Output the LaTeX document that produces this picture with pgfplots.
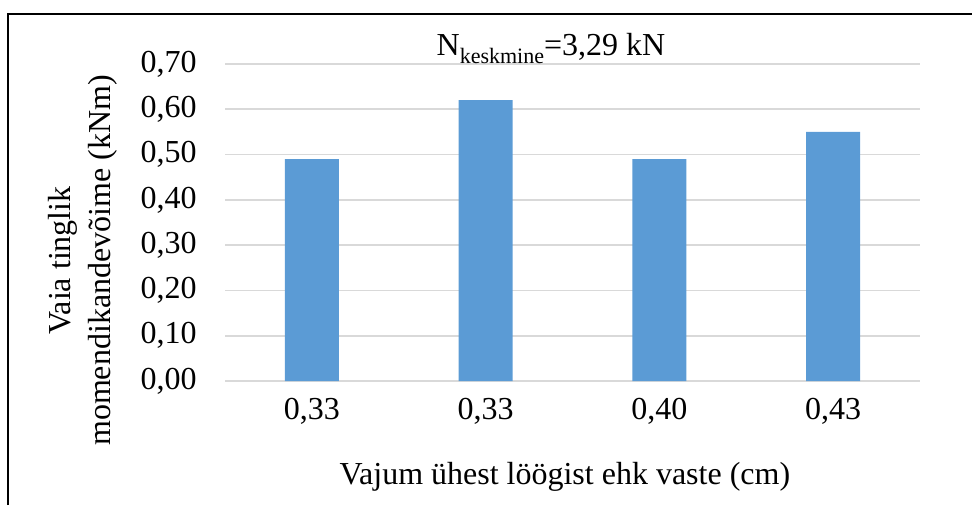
\documentclass[border=0pt]{standalone}
\usepackage{pgfplots}
\pgfplotsset{compat=1.18}
\usepackage{fontspec}
\setmainfont{Liberation Serif}
\definecolor{barblue}{HTML}{5B9BD5}
\definecolor{gridgray}{HTML}{D9D9D9}

\begin{document}
\fontsize{16}{19}\selectfont
\begin{tikzpicture}
  \path[use as bounding box] (0,0) rectangle (486pt,252.5pt);
  \draw[black, line width=1pt] (4pt,0) -- (4pt,245.5pt) -- (486pt,245.5pt);
  \begin{axis}[
    at={(112.5pt,62pt)}, anchor=south west,
    scale only axis, width=347.5pt, height=158.5pt,
    xmin=-0.5, xmax=3.5, ymin=0, ymax=0.7,
    xtick={0,1,2,3},
    xticklabels={{0,33},{0,33},{0,40},{0,43}},
    ytick={0,0.1,...,0.7},
    major tick length=0pt,
    axis line style={draw=none},
    ymajorgrids, grid style={gridgray, line width=0.8pt},
    /pgf/number format/.cd, fixed, fixed zerofill, precision=2, use comma, assume math mode=true,
    /pgfplots/.cd,
    yticklabel style={anchor=east, inner sep=0pt, xshift=-14pt, font=\fontsize{16}{19}\selectfont},
    xticklabel style={anchor=north, inner sep=0pt, yshift=-8.5pt, font=\fontsize{16}{19}\selectfont},
    xlabel={Vajum ühest löögist ehk vaste (cm)},
    xlabel style={at={(axis description cs:0.489,0)}, anchor=base, yshift=-51.5pt, inner sep=0pt, font=\fontsize{16}{19}\selectfont},
    ylabel={Vaia tinglik\\momendikandevõime (kNm)},
    ylabel style={at={(axis description cs:0,0.38)}, anchor=center, yshift=71pt, align=center, font=\fontsize{16}{20}\selectfont},
    title={N\raisebox{-4pt}{\fontsize{11}{13}\selectfont keskmine}=3,29 kN},
    title style={at={(axis description cs:0.469,1)}, anchor=base, yshift=-1.5pt, inner sep=0pt, font=\fontsize{16}{19}\selectfont},
  ]
    \addplot[ybar, bar width=27pt, fill=barblue, draw=none]
      coordinates {(0,0.49) (1,0.62) (2,0.49) (3,0.55)};
  \end{axis}
\end{tikzpicture}
\end{document}
